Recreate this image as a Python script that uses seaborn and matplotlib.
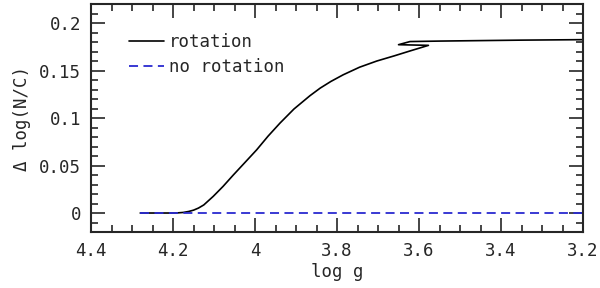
import matplotlib
matplotlib.use("Agg")
import matplotlib.pyplot as plt
import seaborn as sns
import pandas as pd
from matplotlib.ticker import MultipleLocator

# rotating model track (note the small backward loop near log g = 3.6)
logg_rot = [4.28, 4.20, 4.19, 4.175, 4.162, 4.15, 4.138, 4.125, 4.102, 4.078,
            4.053, 4.025, 3.996, 3.968, 3.939, 3.905, 3.866, 3.841, 3.815,
            3.785, 3.745, 3.703, 3.66, 3.622, 3.577, 3.65, 3.622, 3.55, 3.45,
            3.35, 3.20]
dnc_rot = [0.0, 0.0, 0.0001, 0.0006, 0.0016, 0.003, 0.0052, 0.0085, 0.0175,
           0.028, 0.040, 0.053, 0.0665, 0.081, 0.0947, 0.1095, 0.1235, 0.1315,
           0.1385, 0.1455, 0.1535, 0.160, 0.1655, 0.1706, 0.1765, 0.1772,
           0.1805, 0.181, 0.1815, 0.182, 0.1825]

# non-rotating model
logg_norot = [4.28, 3.20]
dnc_norot = [0.0, 0.0]

df_rot = pd.DataFrame({"logg": logg_rot, "dnc": dnc_rot})
df_norot = pd.DataFrame({"logg": logg_norot, "dnc": dnc_norot})

sns.set_style("ticks")
plt.rcParams["font.family"] = ["DejaVu Sans Mono", "DejaVu Sans"]
plt.rcParams["font.size"] = 12.5

fig = plt.figure(figsize=(6, 2.88), dpi=100)
ax = fig.add_axes([0.1517, 0.1944, 0.82, 0.7916])

sns.lineplot(data=df_rot, x="logg", y="dnc", sort=False, estimator=None,
             color="black", lw=1.2, ax=ax, label="rotation")
sns.lineplot(data=df_norot, x="logg", y="dnc", sort=False, estimator=None,
             color="#2a2ad0", lw=1.3, ax=ax, label="no rotation",
             dashes=False, linestyle=(0, (5, 3)))

ax.set_xlim(4.4, 3.2)
ax.set_ylim(-0.02, 0.22)
ax.xaxis.set_major_locator(MultipleLocator(0.2))
ax.xaxis.set_minor_locator(MultipleLocator(0.05))
ax.yaxis.set_major_locator(MultipleLocator(0.05))
ax.yaxis.set_minor_locator(MultipleLocator(0.01))
ax.set_xticks([4.4, 4.2, 4.0, 3.8, 3.6, 3.4, 3.2])
ax.set_xticklabels(["4.4", "4.2", "4", "3.8", "3.6", "3.4", "3.2"])
ax.set_yticks([0, 0.05, 0.1, 0.15, 0.2])
ax.set_yticklabels(["0", "0.05", "0.1", "0.15", "0.2"])
ax.tick_params(which="both", direction="in", top=True, right=True, width=1.2,
               labelsize=12.5, pad=7)
ax.tick_params(which="major", length=10)
ax.tick_params(which="minor", length=5)
for s in ax.spines.values():
    s.set_linewidth(1.5)

ax.set_xlabel("log g", fontsize=12.5, labelpad=2)
ax.set_ylabel("Δ log(N/C)", fontsize=12.5, labelpad=6)

leg = ax.legend(loc="upper left", bbox_to_anchor=(0.045, 0.94), frameon=False,
                handlelength=2.0, handletextpad=0.3, labelspacing=0.4,
                fontsize=12.5)

fig.savefig("out.png", dpi=100)
